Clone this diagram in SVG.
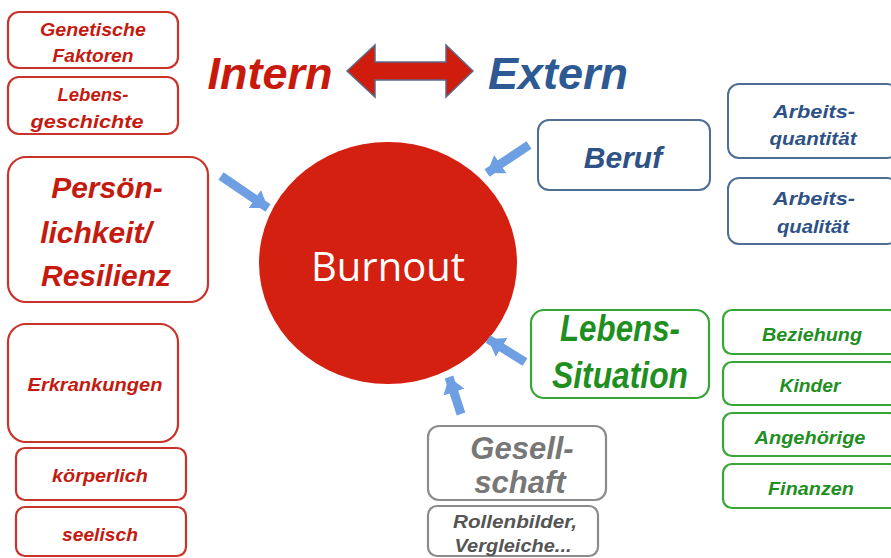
<svg xmlns="http://www.w3.org/2000/svg" width="891" height="558" viewBox="0 0 891 558">
<defs>
<style>
.t{font-family:"Liberation Sans",Arial,sans-serif;font-weight:bold;font-style:italic;text-anchor:middle}
.r rect{fill:#fff;stroke:#c8332a;stroke-width:2.2}
.r text{fill:#c41a10}
.b rect{fill:#fff;stroke:#4f6e96;stroke-width:2}
.b text{fill:#2e5186}
.g rect{fill:#fff;stroke:#37a637;stroke-width:2.2}
.g text{fill:#1f8f1f}
.y rect{fill:#fff;stroke:#8c8c8c;stroke-width:2.2}
.y text{fill:#777}
.c line{stroke:#6e9fe2;stroke-width:9;marker-end:url(#ah)}
</style>
<marker id="ah" markerUnits="userSpaceOnUse" markerWidth="22" markerHeight="24" refX="16" refY="12" orient="auto">
<path d="M0,1 L16,12 L0,23 Z" fill="#6e9fe2"/>
</marker>
</defs>
<rect width="891" height="558" fill="#fff"/>

<g id="intern-extern">
<text class="t" x="270" y="89" font-size="45" fill="#c81a0c">Intern</text>
<polygon points="347,71 375,45 375,62 446,62 446,45 473,71 446,97 446,80 375,80 375,97" fill="#d01c0c" stroke="#5a6a8a" stroke-width="1.5"/>
<text class="t" x="558" y="89" font-size="45" fill="#2e5a94">Extern</text>
</g>

<g id="genetische" class="r">
<rect x="8" y="12" width="170" height="56" rx="11"/>
<text class="t" x="93" y="36" font-size="18" textLength="106" lengthAdjust="spacingAndGlyphs">Genetische</text>
<text class="t" x="93" y="62" font-size="18" textLength="81" lengthAdjust="spacingAndGlyphs">Faktoren</text>
</g>
<g id="lebensgeschichte" class="r">
<rect x="8" y="77" width="170" height="57" rx="11"/>
<text class="t" x="93" y="101" font-size="18" textLength="71" lengthAdjust="spacingAndGlyphs">Lebens-</text>
<text class="t" x="87" y="128" font-size="18" textLength="113" lengthAdjust="spacingAndGlyphs">geschichte</text>
</g>
<g id="persoenlichkeit" class="r">
<rect x="8" y="157" width="200" height="145" rx="18"/>
<text class="t" x="107" y="198" font-size="30">Persön-</text>
<text class="t" x="96" y="243" font-size="30">lichkeit/</text>
<text class="t" x="106" y="286" font-size="30">Resilienz</text>
</g>
<g id="erkrankungen" class="r">
<rect x="8" y="324" width="170" height="118" rx="18"/>
<text class="t" x="95" y="391" font-size="19" textLength="135" lengthAdjust="spacingAndGlyphs">Erkrankungen</text>
</g>
<g id="koerperlich" class="r">
<rect x="16" y="448" width="170" height="52" rx="9"/>
<text class="t" x="100" y="482" font-size="19" textLength="96" lengthAdjust="spacingAndGlyphs">körperlich</text>
</g>
<g id="seelisch" class="r">
<rect x="16" y="507" width="170" height="49" rx="9"/>
<text class="t" x="100" y="541" font-size="19" textLength="76" lengthAdjust="spacingAndGlyphs">seelisch</text>
</g>

<g id="burnout">
<ellipse cx="388" cy="263" rx="129" ry="121" fill="#d42010"/>
<text x="388" y="281" font-family="Open Sans,sans-serif" font-size="40" fill="#fff" text-anchor="middle" textLength="154" lengthAdjust="spacingAndGlyphs">Burnout</text>
</g>

<g id="beruf" class="b">
<rect x="538" y="120" width="172" height="70" rx="11"/>
<text class="t" x="623" y="168" font-size="30">Beruf</text>
</g>
<g id="arbeitsquantitaet" class="b">
<rect x="728" y="84" width="170" height="74" rx="11"/>
<text class="t" x="814" y="118" font-size="18" textLength="82" lengthAdjust="spacingAndGlyphs">Arbeits-</text>
<text class="t" x="813" y="145" font-size="18" textLength="87" lengthAdjust="spacingAndGlyphs">quantität</text>
</g>
<g id="arbeitsqualitaet" class="b">
<rect x="728" y="178" width="170" height="66" rx="11"/>
<text class="t" x="814" y="205" font-size="18" textLength="82" lengthAdjust="spacingAndGlyphs">Arbeits-</text>
<text class="t" x="813" y="233" font-size="18" textLength="72" lengthAdjust="spacingAndGlyphs">qualität</text>
</g>

<g id="lebenssituation" class="g">
<rect x="531" y="310" width="178" height="88" rx="13"/>
<text class="t" x="620" y="341" font-size="37" textLength="120" lengthAdjust="spacingAndGlyphs">Lebens-</text>
<text class="t" x="620" y="388" font-size="37" textLength="136" lengthAdjust="spacingAndGlyphs">Situation</text>
</g>
<g id="beziehung" class="g">
<rect x="723" y="310" width="175" height="44" rx="9"/>
<text class="t" x="812" y="341" font-size="18" textLength="100" lengthAdjust="spacingAndGlyphs">Beziehung</text>
</g>
<g id="kinder" class="g">
<rect x="723" y="362" width="175" height="43" rx="9"/>
<text class="t" x="810" y="392" font-size="18" textLength="61" lengthAdjust="spacingAndGlyphs">Kinder</text>
</g>
<g id="angehoerige" class="g">
<rect x="723" y="413" width="175" height="43" rx="9"/>
<text class="t" x="810" y="444" font-size="18" textLength="111" lengthAdjust="spacingAndGlyphs">Angehörige</text>
</g>
<g id="finanzen" class="g">
<rect x="723" y="464" width="175" height="44" rx="9"/>
<text class="t" x="811" y="495" font-size="18" textLength="86" lengthAdjust="spacingAndGlyphs">Finanzen</text>
</g>

<g id="gesellschaft" class="y">
<rect x="428" y="426" width="178" height="74" rx="11"/>
<text class="t" x="522" y="459" font-size="31">Gesell-</text>
<text class="t" x="520" y="493" font-size="31">schaft</text>
</g>
<g id="rollenbilder" class="y">
<rect x="428" y="506" width="170" height="50" rx="9"/>
<text class="t" x="515" y="528" font-size="18" style="fill:#555" textLength="124" lengthAdjust="spacingAndGlyphs">Rollenbilder,</text>
<text class="t" x="513" y="552" font-size="18" style="fill:#555" textLength="117" lengthAdjust="spacingAndGlyphs">Vergleiche...</text>
</g>

<g id="connectors" class="c">
<line x1="221" y1="176" x2="268" y2="208"/>
<line x1="529" y1="145" x2="487" y2="173"/>
<line x1="525" y1="362" x2="488" y2="339"/>
<line x1="461" y1="414" x2="449" y2="377"/>
</g>
</svg>
